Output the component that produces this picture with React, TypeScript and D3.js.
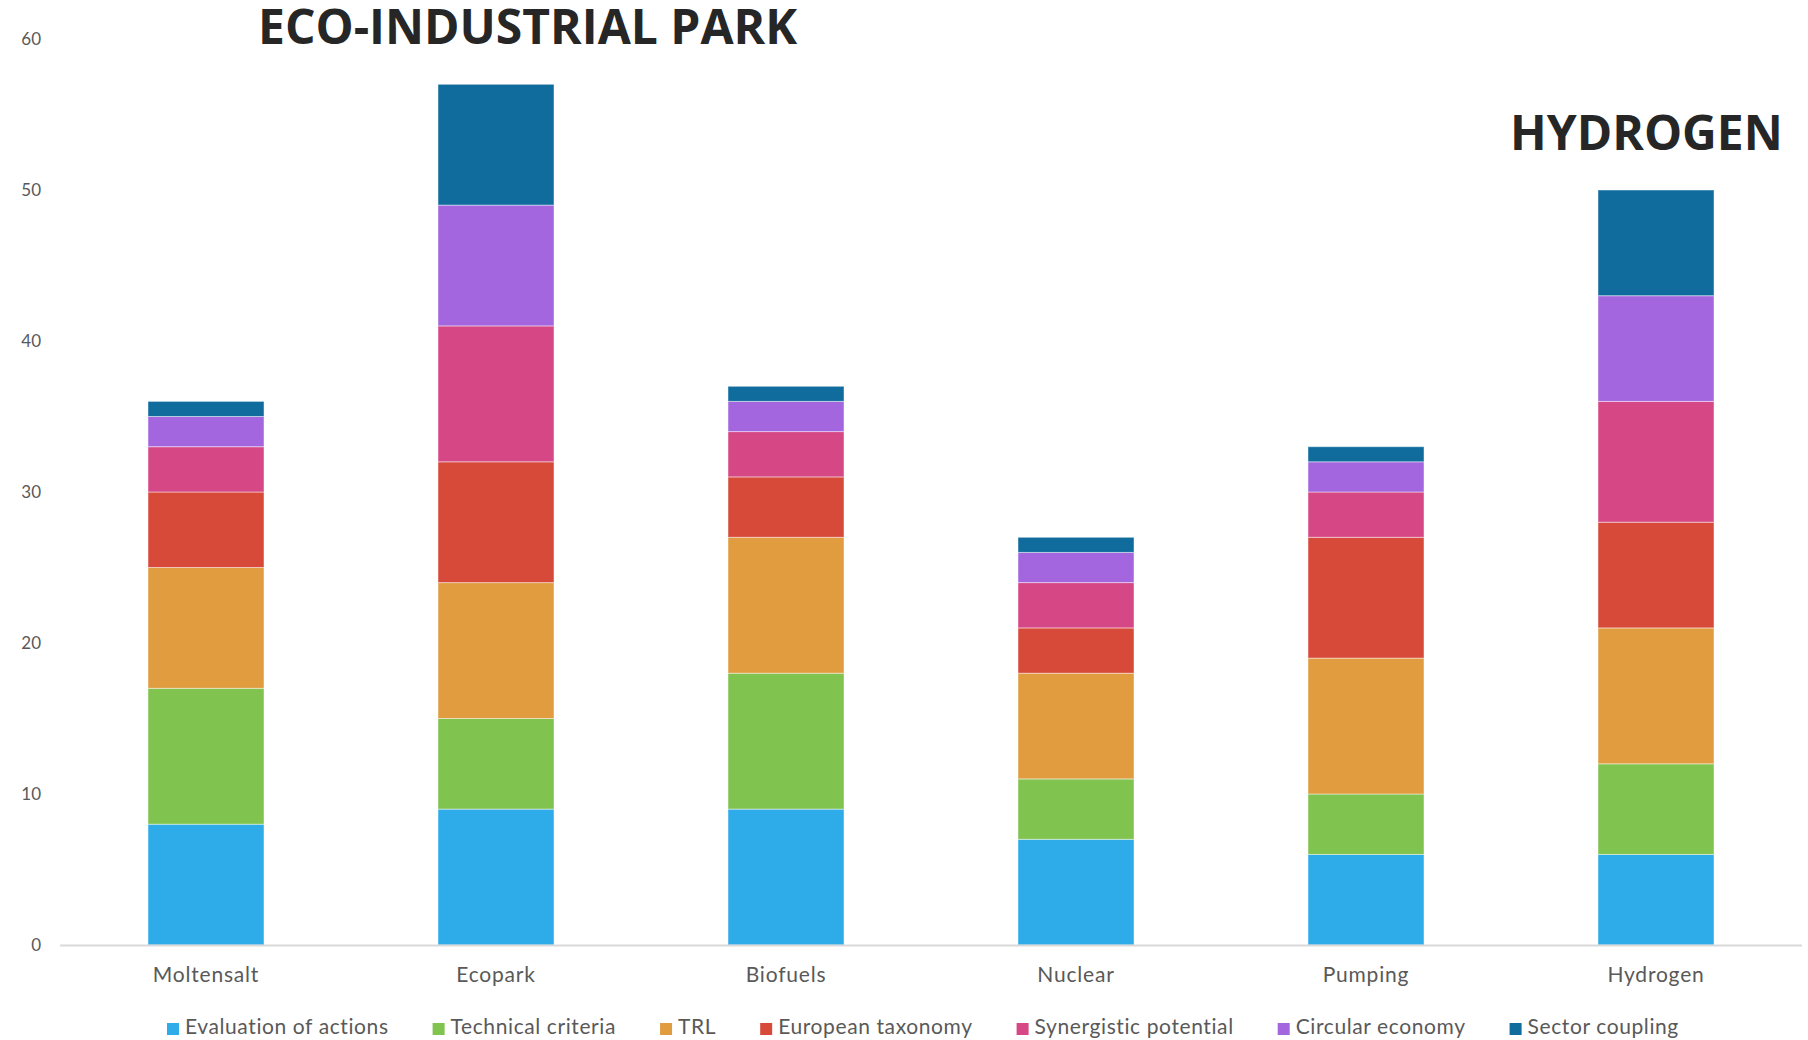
import React, { useEffect, useRef } from "react";
import * as d3 from "d3";

const categories = ["Moltensalt", "Ecopark", "Biofuels", "Nuclear", "Pumping", "Hydrogen"];
const seriesNames = [
  "Evaluation of actions",
  "Technical criteria",
  "TRL",
  "European taxonomy",
  "Synergistic potential",
  "Circular economy",
  "Sector coupling",
];
const evaluationOfActions = [8, 9, 9, 7, 6, 6];
const technicalCriteria = [9, 6, 9, 4, 4, 6];
const trl = [8, 9, 9, 7, 9, 9];
const europeanTaxonomy = [5, 8, 4, 3, 8, 7];
const synergisticPotential = [3, 9, 3, 3, 3, 8];
const circularEconomy = [2, 8, 2, 2, 2, 7];
const sectorCoupling = [1, 8, 1, 1, 1, 7];
const seriesValues = [
  evaluationOfActions,
  technicalCriteria,
  trl,
  europeanTaxonomy,
  synergisticPotential,
  circularEconomy,
  sectorCoupling,
];
const colors = ["#2EABE9", "#80C34F", "#E19C40", "#D74A3A", "#D64885", "#A466DF", "#0F6C9D"];
const yTicks = [0, 10, 20, 30, 40, 50, 60];

const W = 1808;
const H = 1040;

export default function App() {
  const ref = useRef<SVGSVGElement>(null);

  useEffect(() => {
    const svg = d3.select(ref.current);
    svg.selectAll("*").remove();

    const x = d3.scaleBand<string>().domain(categories).range([61, 1801]).paddingInner(0.6).paddingOuter(0.3);
    const y = d3.scaleLinear().domain([0, 60]).range([945, 39]);

    const rows = categories.map((c, i) => {
      const r: any = { category: c };
      seriesNames.forEach((s, j) => (r[s] = seriesValues[j][i]));
      return r;
    });
    const stacked = d3.stack<any>().keys(seriesNames)(rows);

    // y tick labels
    svg
      .append("g")
      .selectAll("text")
      .data(yTicks)
      .join("text")
      .attr("x", 41)
      .attr("y", (d) => y(d))
      .attr("dy", "0.35em")
      .attr("text-anchor", "end")
      .attr("font-family", "Lato, 'Open Sans', sans-serif")
      .attr("font-size", 17)
      .attr("fill", "#595959")
      .text((d) => String(d));

    // bars
    const g = svg.append("g");
    stacked.forEach((layer, j) => {
      g.append("g")
        .attr("fill", colors[j])
        .selectAll("rect")
        .data(layer)
        .join("rect")
        .attr("x", (d: any) => x(d.data.category)!)
        .attr("width", x.bandwidth())
        .attr("y", (d: any) => y(d[1]))
        .attr("height", (d: any) => y(d[0]) - y(d[1]))
        .attr("stroke", "#ffffff")
        .attr("stroke-opacity", 0.45)
        .attr("stroke-width", 1);
    });

    // x axis line
    svg
      .append("line")
      .attr("x1", 60)
      .attr("x2", 1802)
      .attr("y1", y(0) + 0.5)
      .attr("y2", y(0) + 0.5)
      .attr("stroke", "#d9d9d9")
      .attr("stroke-width", 2);

    // category labels
    svg
      .append("g")
      .selectAll("text")
      .data(categories)
      .join("text")
      .attr("x", (d) => x(d)! + x.bandwidth() / 2)
      .attr("y", 982)
      .attr("text-anchor", "middle")
      .attr("font-family", "Lato, 'Open Sans', sans-serif")
      .attr("font-size", 21)
      .attr("letter-spacing", 0.8)
      .attr("fill", "#595959")
      .text((d) => d);

    // legend
    const lg = svg.append("g");
    let cx = 167;
    seriesNames.forEach((s, j) => {
      lg.append("rect")
        .attr("x", cx)
        .attr("y", 1023)
        .attr("width", 12)
        .attr("height", 12)
        .attr("fill", colors[j]);
      const t = lg
        .append("text")
        .attr("x", cx + 18)
        .attr("y", 1034)
        .attr("font-family", "Lato, 'Open Sans', sans-serif")
        .attr("font-size", 21)
        .attr("letter-spacing", 0.6)
        .attr("fill", "#595959")
        .text(s);
      const w = (t.node() as SVGTextElement).getComputedTextLength();
      cx = cx + 18 + w + 44;
    });

    // titles
    svg
      .append("text")
      .attr("x", 258)
      .attr("y", 44)
      .attr("font-family", "'Open Sans', sans-serif")
      .attr("font-weight", 700)
      .attr("font-size", 48)
      .attr("fill", "#262626")
      .text("ECO-INDUSTRIAL PARK");
    svg
      .append("text")
      .attr("x", 1510)
      .attr("y", 150)
      .attr("font-family", "'Open Sans', sans-serif")
      .attr("font-weight", 700)
      .attr("font-size", 48)
      .attr("fill", "#262626")
      .text("HYDROGEN");
  }, []);

  return (
    <svg
      ref={ref}
      width={W}
      height={H}
      style={{ position: "absolute", left: 0, top: 0, background: "#ffffff" }}
    />
  );
}
